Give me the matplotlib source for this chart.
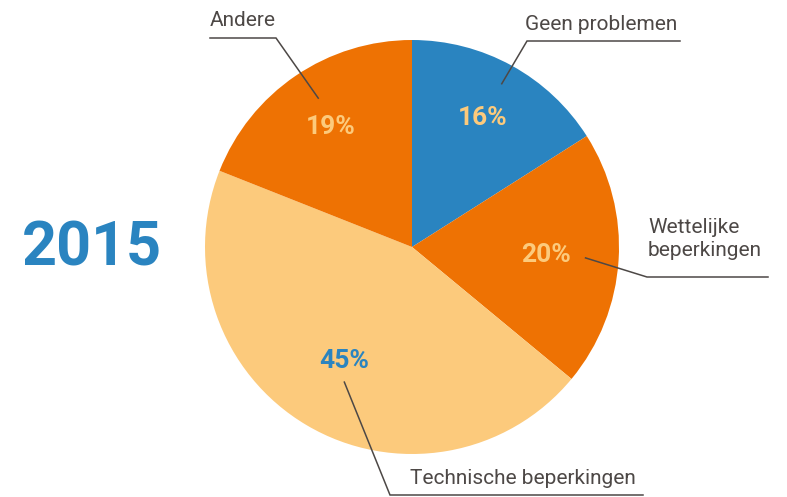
import matplotlib.pyplot as plt
import numpy as np

# pie data
labels = ['Geen problemen', 'Wettelijke\nbeperkingen', 'Technische beperkingen', 'Andere']
shares = [16, 20, 45, 19]
year = '2015'

blue = '#2A84C0'
orange = '#EE7203'
light = '#FCCA7C'
grey = '#4D4846'
colors = [blue, orange, light, orange]
pct_colors = [light, light, blue, light]

H = 497
cx, cy, r = 412, H - 247, 207

fig = plt.figure(figsize=(7.87, 4.97), dpi=100)
ax = fig.add_axes([0, 0, 1, 1])

wedges, _ = ax.pie(shares, colors=colors, startangle=90, counterclock=False,
                   center=(cx, cy), radius=r, frame=True,
                   wedgeprops=dict(linewidth=0))
ax.set_xlim(0, 787)
ax.set_ylim(0, H)
ax.set_aspect('equal')
ax.axis('off')

# percentage labels, per-slice distance from centre
pct_dist = [0.71, 0.65, 0.64, 0.70]
# leader line start (fraction of radius, angle shift), elbow and end in pixel coords
lead_dist = [0.90, 0.84, 0.73, 0.85]
lead_shift = [0, 0, 4, -2]
elbows = [(527, 41), (647, 277), (390, 495), (276, 38)]
ends = [(680, 41), (768, 277), (643, 495), (210, 38)]
label_pos = [(525, 24), (648, 239), (410, 479), (210, 20)]

for i, w in enumerate(wedges):
    mid = np.deg2rad((w.theta1 + w.theta2) / 2)
    px = cx + pct_dist[i] * r * np.cos(mid)
    py = cy + pct_dist[i] * r * np.sin(mid)
    ax.text(px, py, f'{shares[i]}%', color=pct_colors[i], fontsize=19,
            fontweight='bold', ha='center', va='center', family='Roboto')
    a = mid + np.deg2rad(lead_shift[i])
    sx = cx + lead_dist[i] * r * np.cos(a)
    sy = cy + lead_dist[i] * r * np.sin(a)
    ex, ey = elbows[i]
    fx, fy = ends[i]
    ax.plot([sx, ex, fx], [sy, H - ey, H - fy], color=grey, linewidth=1.1,
            solid_joinstyle='miter')
    tx, ty = label_pos[i]
    ax.text(tx, H - ty, labels[i], color=grey, fontsize=15, ha='left', va='center',
            family='Roboto', linespacing=1.3)

ax.text(22, H - 248, year, color=blue, fontsize=44, fontweight='bold',
        ha='left', va='center', family='Roboto')

fig.savefig('out.png', dpi=100)
